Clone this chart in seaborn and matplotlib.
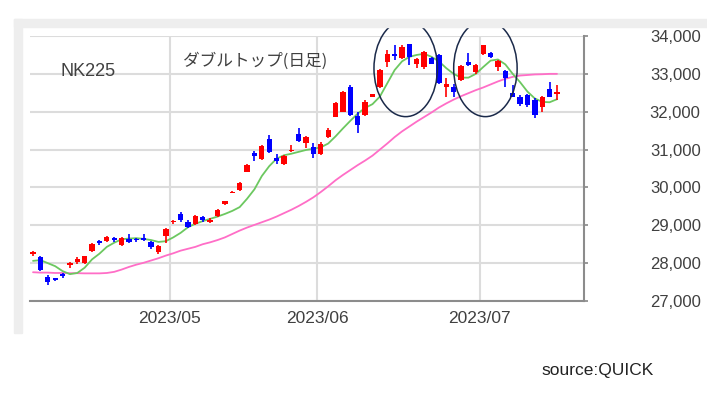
import numpy as np
import pandas as pd
import matplotlib
matplotlib.use("Agg")
import matplotlib.pyplot as plt
from matplotlib.patches import Ellipse, Rectangle
import seaborn as sns

# %% Datos ---------------------------------------------------------------------
dates = (
    ["2023-04-%02d" % d for d in [4, 5, 6, 7, 10, 11, 12, 13, 14, 17, 18, 19, 20, 21, 24, 25, 26, 27, 28]]
    + ["2023-05-%02d" % d for d in [1, 2, 8, 9, 10, 11, 12, 15, 16, 17, 18, 19, 22, 23, 24, 25, 26, 29, 30, 31]]
    + ["2023-06-%02d" % d for d in [1, 2, 5, 6, 7, 8, 9, 12, 13, 14, 15, 16, 19, 20, 21, 22, 23, 26, 27, 28, 29, 30]]
    + ["2023-07-%02d" % d for d in [3, 4, 5, 6, 7, 10, 11, 12, 13, 14, 18]]
)

opens = [28230, 28150, 27640, 27600, 27710, 27950, 28030, 28000, 28320, 28580,
         28580, 28660, 28470, 28640, 28640, 28660, 28560, 28300, 28710, 29080,
         29290, 29100, 29030, 29210, 29090, 29240, 29560, 29860, 29920, 30420,
         30920, 30740, 31290, 30790, 30630, 30960, 31400, 31180, 31080, 30890,
         31320, 31870, 32000, 32660, 31890, 31920, 32400, 32660, 33320, 33530,
         33420, 33790, 33260, 33180, 33420, 33500, 32660, 32660, 32840, 33320,
         33050, 33530, 33550, 33180, 33080, 32500, 32400, 32450, 32320, 32130,
         32600, 32470]
highs = [28320, 28190, 27680, 27620, 27740, 28040, 28150, 28200, 28540, 28600,
         28720, 28680, 28690, 28770, 28670, 28780, 28580, 28470, 28930, 29140,
         29340, 29130, 29280, 29240, 29200, 29430, 29640, 29900, 30140, 30610,
         30950, 31110, 31390, 30870, 30850, 31130, 31580, 31360, 31180, 31200,
         31560, 32260, 32550, 32710, 31990, 32300, 32480, 33120, 33630, 33760,
         33760, 33800, 33420, 33600, 33450, 33520, 32890, 32720, 33230, 33550,
         33260, 33770, 33580, 33360, 33100, 32710, 32450, 32480, 32350, 32420,
         32790, 32710]
lows = [28180, 27780, 27430, 27520, 27620, 27870, 27980, 27980, 28300, 28480,
        28560, 28560, 28450, 28540, 28560, 28590, 28380, 28240, 28540, 29030,
        29100, 28940, 29000, 29100, 29070, 29220, 29530, 29840, 29900, 30400,
        30690, 30720, 30900, 30610, 30600, 30930, 31200, 31050, 30790, 30860,
        31300, 31850, 31990, 31900, 31450, 31900, 32380, 32620, 33180, 33370,
        33380, 33240, 33150, 33130, 33250, 32740, 32400, 32400, 32800, 33220,
        33000, 33500, 33420, 33080, 32660, 32380, 32150, 32130, 31840, 32000,
        32380, 32320]
closes = [28290, 27820, 27490, 27550, 27650, 28010, 28120, 28180, 28510, 28530,
          28700, 28610, 28670, 28570, 28600, 28620, 28420, 28450, 28900, 29120,
          29150, 28960, 29250, 29130, 29150, 29400, 29630, 29890, 30120, 30590,
          30820, 31090, 30930, 30690, 30830, 30990, 31220, 31330, 30890, 31160,
          31530, 32220, 32510, 31920, 31660, 32260, 32470, 33100, 33530, 33480,
          33710, 33450, 33400, 33580, 33260, 32760, 32740, 32530, 33210, 33240,
          33240, 33760, 33450, 33340, 32900, 32400, 32210, 32180, 31920, 32400,
          32400, 32530]

# medias móviles (verde = 5 días, rosa = 25 días)
ma5 = [28060, 28080, 28000, 27920, 27790, 27710, 27740, 27880, 28100, 28250,
       28430, 28540, 28630, 28650, 28660, 28640, 28610, 28560, 28580, 28680,
       28800, 28950, 29040, 29110, 29170, 29230, 29300, 29380, 29480, 29700,
       29950, 30300, 30560, 30760, 30850, 30890, 30940, 30990, 31020, 31060,
       31160, 31350, 31560, 31760, 31950, 32100, 32200, 32400, 32750, 33100,
       33330, 33450, 33500, 33530, 33450, 33330, 33150, 33000, 32900, 32900,
       33000, 33180, 33350, 33380, 33250, 33000, 32780, 32530, 32350, 32260,
       32250, 32330]
ma25 = [27760, 27750, 27750, 27740, 27740, 27735, 27735, 27730, 27730, 27730,
        27740, 27770, 27830, 27900, 27960, 28010, 28070, 28130, 28200, 28260,
        28330, 28380, 28430, 28500, 28550, 28610, 28680, 28770, 28860, 28940,
        29010, 29080, 29150, 29230, 29320, 29410, 29510, 29620, 29740, 29880,
        30030, 30190, 30330, 30460, 30590, 30710, 30840, 31000, 31160, 31330,
        31480, 31610, 31740, 31860, 31980, 32110, 32220, 32320, 32410, 32490,
        32570, 32640, 32720, 32800, 32870, 32920, 32955, 32970, 32985, 32990,
        33000, 33000]

y_ticks = [27000, 28000, 29000, 30000, 31000, 32000, 33000, 34000]

# dos techos de la "doble techo" (posición en velas, precio)
top_centers = [(50.5, 33145), (61.3, 33145)]
top_size = (8.6, 2550)

# %% Tabla ---------------------------------------------------------------------
df = pd.DataFrame({"fecha": pd.to_datetime(dates), "open": opens, "high": highs,
                   "low": lows, "close": closes, "ma5": ma5, "ma25": ma25})
df["idx"] = np.arange(len(df))
sube = df["close"] >= df["open"]
df["color"] = np.where(sube, "#ff0000", "#0000ff")

# primera vela de cada mes -> línea de mes
mes = df["fecha"].dt.month
primeros = df.index[mes != mes.shift()][1:]
pos_mes = [i - 0.5 for i in primeros]
etiquetas_mes = [df.loc[i, "fecha"].strftime("%Y/%m") for i in primeros]

# %% Figura --------------------------------------------------------------------
sns.set_theme(style="white")
plt.rcParams["font.family"] = ["Liberation Sans", "Noto Sans CJK JP", "DejaVu Sans"]

W, H = 707, 397
fig = plt.figure(figsize=(W / 100, H / 100), dpi=100)
fig.patch.set_facecolor("white")

# marco gris claro de la captura
fig.patches.append(Rectangle((14 / W, 1 - 27 / H), 1 - 14 / W, 8 / H,
                             transform=fig.transFigure, color="#eeeeee", zorder=0))
fig.patches.append(Rectangle((14 / W, 1 - 333 / H), 8 / W, 314 / H,
                             transform=fig.transFigure, color="#eeeeee", zorder=0))

ax = fig.add_axes([30 / W, 1 - 301 / H, 554 / W, 265 / H])
ax.set_facecolor("white")

sns.lineplot(data=df, x="idx", y="ma25", color="#ff6ec7", lw=1.3, ax=ax, zorder=2)
sns.lineplot(data=df, x="idx", y="ma5", color="#6cc860", lw=1.3, ax=ax, zorder=2)

# velas
ax.vlines(df["idx"], df["low"], df["high"], colors=df["color"], lw=1.2, zorder=3)
cuerpo = (df["close"] - df["open"]).abs().clip(lower=30)
base = df[["open", "close"]].min(axis=1)
ax.bar(df["idx"], cuerpo, bottom=base, width=0.72, color=df["color"],
       linewidth=0, zorder=4)

# círculos de los dos techos
for cx, cy in top_centers:
    ax.add_patch(Ellipse((cx, cy), top_size[0], top_size[1], fill=False,
                         ec="#1b2a4a", lw=1.1, zorder=5, clip_on=False))

ax.set_xlim(-0.41, 74.66)
ax.set_ylim(27000, 34000)
ax.set_xlabel("")
ax.set_ylabel("")

ax.set_xticks(pos_mes)
ax.set_xticklabels(etiquetas_mes)
ax.set_yticks(y_ticks)
ax.set_yticklabels([f"{v:,}" for v in y_ticks])
ax.yaxis.tick_right()
ax.grid(True, color="#dcdcdc", lw=1.5, zorder=0)
ax.set_axisbelow(True)

for lado in ["left", "top"]:
    ax.spines[lado].set_visible(False)
for lado in ["bottom", "right"]:
    ax.spines[lado].set_color("#8c8c8c")
    ax.spines[lado].set_linewidth(1.5)

ax.tick_params(axis="x", length=3, color="#8c8c8c", pad=4,
               labelsize=12.5, labelcolor="#404040")
ax.tick_params(axis="y", length=3, color="#8c8c8c", pad=81,
               labelsize=12, labelcolor="#404040", right=True, left=False)
for lab in ax.get_yticklabels():
    lab.set_horizontalalignment("right")

# textos
fig.text(61 / W, 1 - 72 / H, "NK225", fontsize=13, color="#404040", va="center")
fig.text(183 / W, 1 - 61 / H, "ダブルトップ(日足)", fontsize=12, color="#404040",
         va="center", family=["Noto Sans CJK JP", "DejaVu Sans"])
fig.text(541 / W, 1 - 370 / H, "source:QUICK", fontsize=12.5, color="#222222",
         va="center")

fig.savefig("out.png", dpi=100)
